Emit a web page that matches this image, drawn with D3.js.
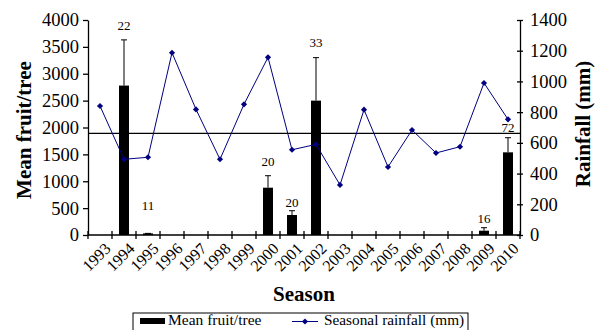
<!DOCTYPE html>
<html>
<head>
<meta charset="utf-8">
<script src="https://cdn.jsdelivr.net/npm/d3@7"></script>
<style>
  body { margin: 0; background: #fff; }
  svg, svg text { font-family: "Liberation Serif", "DejaVu Serif", serif; }
</style>
</head>
<body>
<div id="chart"></div>
<script>
const seasons = ["1993", "1994", "1995", "1996", "1997", "1998", "1999", "2000", "2001",
    "2002", "2003", "2004", "2005", "2006", "2007", "2008", "2009", "2010"];

// mean fruit per tree (bars), with error bar tops and sample sizes
const fruitSeasons = ["1994", "1995", "2000", "2001", "2002", "2009", "2010"];
const fruitMean = [2780, 30, 880, 372, 2500, 80, 1538];
const fruitErrTop = [3630, 30, 1103, 452, 3300, 136, 1810];
const sampleN = [22, 11, 20, 20, 33, 16, 72];
const sampleLabelAt = [3907, 545, 1377, 601, 3578, 311, 1996];

// seasonal rainfall (mm)
const rainfall = [840, 493, 506, 1187, 818, 493, 851, 1157, 555, 590,
    326, 816, 443, 684, 534, 575, 990, 753];
const rainfallRef = 662;

const fruitTicks = d3.range(0, 4001, 500);
const rainTicks = d3.range(0, 1401, 200);

const width = 600, height = 330;
const margin = { top: 20, right: 80, bottom: 95, left: 88 };

const svg = d3.select("#chart").append("svg")
    .attr("width", width)
    .attr("height", height);

const x = d3.scaleBand()
    .domain(seasons)
    .range([margin.left, width - margin.right])
    .padding(0);

const yFruit = d3.scaleLinear()
    .domain([0, 4000])
    .range([height - margin.bottom, margin.top]);

const yRain = d3.scaleLinear()
    .domain([0, 1400])
    .range([height - margin.bottom, margin.top]);

const bars = fruitSeasons.map((s, i) => ({
    season: s, mean: fruitMean[i], err: fruitErrTop[i], n: sampleN[i], at: sampleLabelAt[i]
}));

const barW = 10;
const cx = (s) => x(s) + x.bandwidth() / 2;

// error bars
const errG = svg.append("g").attr("stroke", "#000").attr("stroke-width", 1);
errG.selectAll("line.stem")
    .data(bars)
    .join("line")
    .attr("class", "stem")
    .attr("x1", (d) => cx(d.season))
    .attr("x2", (d) => cx(d.season))
    .attr("y1", (d) => yFruit(d.mean))
    .attr("y2", (d) => yFruit(d.err));
errG.selectAll("line.cap")
    .data(bars)
    .join("line")
    .attr("class", "cap")
    .attr("x1", (d) => cx(d.season) - 3)
    .attr("x2", (d) => cx(d.season) + 3)
    .attr("y1", (d) => yFruit(d.err))
    .attr("y2", (d) => yFruit(d.err));

// bars
svg.append("g")
    .selectAll("rect")
    .data(bars)
    .join("rect")
    .attr("x", (d) => cx(d.season) - barW / 2)
    .attr("y", (d) => yFruit(d.mean))
    .attr("width", barW)
    .attr("height", (d) => yFruit(0) - yFruit(d.mean))
    .attr("fill", "#000");

// sample size labels
svg.append("g")
    .selectAll("text")
    .data(bars)
    .join("text")
    .attr("x", (d) => cx(d.season))
    .attr("y", (d) => yFruit(d.at))
    .attr("dy", "0.35em")
    .attr("text-anchor", "middle")
    .attr("font-size", 13)
    .attr("fill", "#000")
    .text((d) => d.n);

// reference line
svg.append("line")
    .attr("x1", margin.left)
    .attr("x2", width - margin.right)
    .attr("y1", yRain(rainfallRef))
    .attr("y2", yRain(rainfallRef))
    .attr("stroke", "#000")
    .attr("stroke-width", 1.3);

// rainfall line
const line = d3.line()
    .x((d, i) => cx(seasons[i]))
    .y((d) => yRain(d));

svg.append("path")
    .datum(rainfall)
    .attr("fill", "none")
    .attr("stroke", "#000080")
    .attr("stroke-width", 1)
    .attr("d", line);

const diamond = d3.symbol().type(d3.symbolDiamond2).size(24);
svg.append("g")
    .selectAll("path")
    .data(rainfall)
    .join("path")
    .attr("transform", (d, i) => `translate(${cx(seasons[i])},${yRain(d)})`)
    .attr("d", diamond)
    .attr("fill", "#000080");

// axes
const axisFont = (g) => g.selectAll("text").attr("font-size", 18.5).attr("fill", "#000");

svg.append("g")
    .attr("transform", `translate(${margin.left},0)`)
    .call(d3.axisLeft(yFruit).tickValues(fruitTicks).tickFormat(d3.format("d"))
        .tickSizeInner(5).tickSizeOuter(0).tickPadding(4))
    .call(axisFont);

const rightAxis = svg.append("g")
    .attr("transform", `translate(${width - margin.right},0)`)
    .call(d3.axisRight(yRain).tickValues(rainTicks).tickFormat(d3.format("d"))
        .tickSizeInner(3).tickSizeOuter(0).tickPadding(7))
    .call(axisFont);
rightAxis.selectAll(".tick line").attr("x1", -3);

svg.selectAll(".domain").attr("stroke", "#000").attr("stroke-width", 1.3);
svg.selectAll(".tick line").attr("stroke", "#000").attr("stroke-width", 1.3);

// x axis: baseline, boundary ticks, rotated labels
const base = yFruit(0);
svg.append("line")
    .attr("x1", margin.left)
    .attr("x2", width - margin.right)
    .attr("y1", base)
    .attr("y2", base)
    .attr("stroke", "#000")
    .attr("stroke-width", 1.3);

svg.append("g")
    .selectAll("line")
    .data(seasons.concat(["end"]))
    .join("line")
    .attr("x1", (d, i) => margin.left + i * x.bandwidth())
    .attr("x2", (d, i) => margin.left + i * x.bandwidth())
    .attr("y1", base - 4)
    .attr("y2", base + 4)
    .attr("stroke", "#000")
    .attr("stroke-width", 1.3);

svg.append("g")
    .selectAll("text")
    .data(seasons)
    .join("text")
    .attr("transform", (d) => `translate(${cx(d) + 6},${base + 9}) rotate(-45)`)
    .attr("text-anchor", "end")
    .attr("dy", "0.5em")
    .attr("font-size", 16)
    .attr("fill", "#000")
    .text((d) => d);

// axis titles
svg.append("text")
    .attr("transform", "translate(31,130) rotate(-90)")
    .attr("text-anchor", "middle")
    .attr("font-size", 21)
    .attr("font-weight", "bold")
    .text("Mean fruit/tree");

svg.append("text")
    .attr("transform", "translate(590,124) rotate(-90)")
    .attr("text-anchor", "middle")
    .attr("font-size", 21)
    .attr("font-weight", "bold")
    .text("Rainfall (mm)");

svg.append("text")
    .attr("x", 304)
    .attr("y", 301)
    .attr("text-anchor", "middle")
    .attr("font-size", 21)
    .attr("font-weight", "bold")
    .text("Season");

// legend
const legend = svg.append("g").attr("transform", "translate(133,313)");
legend.append("rect")
    .attr("width", 335)
    .attr("height", 22)
    .attr("fill", "#fff")
    .attr("stroke", "#000")
    .attr("stroke-width", 1);
legend.append("rect")
    .attr("x", 7)
    .attr("y", 5)
    .attr("width", 25)
    .attr("height", 6)
    .attr("fill", "#000");
legend.append("text")
    .attr("x", 35)
    .attr("y", 12)
    .attr("font-size", 15.5)
    .text("Mean fruit/tree");
legend.append("line")
    .attr("x1", 159)
    .attr("x2", 185)
    .attr("y1", 8.5)
    .attr("y2", 8.5)
    .attr("stroke", "#000080");
legend.append("path")
    .attr("transform", "translate(172,8.5)")
    .attr("d", diamond)
    .attr("fill", "#000080");
legend.append("text")
    .attr("x", 191)
    .attr("y", 12)
    .attr("font-size", 15.3)
    .text("Seasonal rainfall (mm)");
</script>
</body>
</html>
